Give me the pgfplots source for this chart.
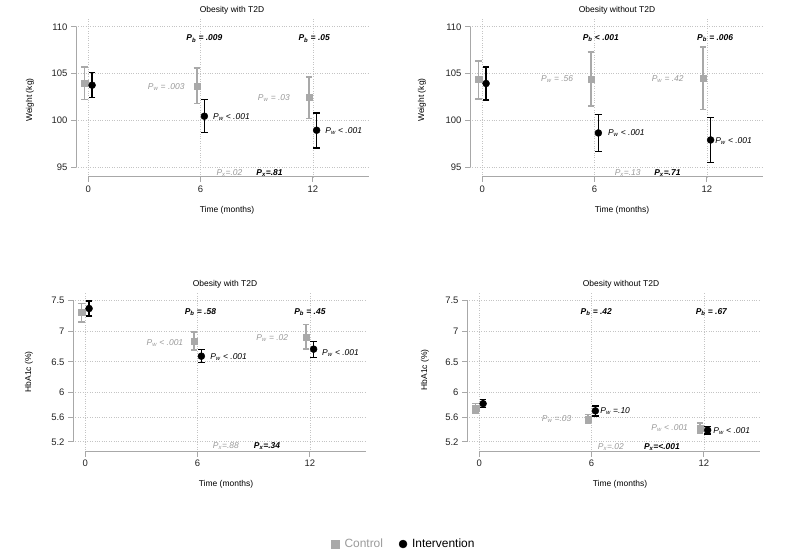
\documentclass[border=0pt]{standalone}
\usepackage{fontspec}
\setmainfont{Liberation Sans}
\usepackage{pgfplots}
\pgfplotsset{compat=1.18}
\definecolor{axgray}{HTML}{A8A8A8}
\definecolor{gridgray}{HTML}{C4C4C4}
\definecolor{ctrl}{HTML}{A9A9A9}
\definecolor{ctrltext}{HTML}{9A9A9A}
\definecolor{txt}{HTML}{222222}
\newcommand{\fs}{\fontsize{8.5}{10}\selectfont}
\newcommand{\Pb}[1]{{\bfseries\itshape P\textsubscript{b} #1}}
\newcommand{\Pw}[1]{{\itshape P\textsubscript{w} #1}}
\newcommand{\Px}[1]{{\itshape P\textsubscript{x}#1}}
\newcommand{\Pxb}[1]{{\bfseries\itshape P\textsubscript{x}#1}}
\pgfplotsset{
  panel/.style={
    scale only axis, width=293bp,
    xmin=-0.66, xmax=15, xtick={0,6,12},
    axis lines*=left, axis line style={draw=none},
    tick align=outside, major tick length=5bp,
    major tick style={axgray, line width=0.9bp},
    grid=major, major grid style={dotted, gridgray, line width=0.7bp},
    clip=false,
    /pgf/number format/assume math mode=true,
    ticklabel style={font=\fontsize{9.5}{11}\selectfont, text=txt},
  },
  ctrlplot/.style={only marks, mark=square*, mark size=3.1bp, color=ctrl,
    mark options={draw=ctrl, fill=ctrl},
    error bars/.cd, y dir=both, y explicit,
    error bar style={line width=1.7bp, ctrl},
    error mark options={rotate=90, mark size=3.2bp, line width=1.5bp, ctrl}},
  intplot/.style={only marks, mark=*, mark size=3.5bp, color=black,
    mark options={draw=black, fill=black},
    error bars/.cd, y dir=both, y explicit,
    error bar style={line width=1.6bp, black},
    error mark options={rotate=90, mark size=3.2bp, line width=1.5bp, black}},
}
\begin{document}
\begin{tikzpicture}
\useasboundingbox (0,0) rectangle (800bp,553bp);
% ---------- Top left ----------
\begin{axis}[panel, at={(76bp,376bp)}, anchor=south west, height=159.6bp,
  ymin=93.93, ymax=111, ytick={95,100,105,110}]
\addplot[ctrlplot] table[x=x,y=y,y error plus=ep,y error minus=em] {
x y ep em
-0.2 103.93 1.78 1.72
5.8 103.64 1.97 1.85
11.8 102.43 2.21 2.25
};
\addplot[intplot] table[x=x,y=y,y error plus=ep,y error minus=em] {
x y ep em
0.2 103.75 1.36 1.32
6.2 100.43 1.78 1.72
12.2 98.93 1.86 1.89
};
\draw[axgray, line width=1bp] (axis cs:-0.66,95) -- (axis cs:-0.66,110);
\draw[axgray, line width=1bp] (axis cs:0,93.93) -- (axis cs:15,93.93);
\node[inner sep=0, font=\fs] at (axis cs:6.2,108.75) {\Pb{= .009}};
\node[inner sep=0, font=\fs] at (axis cs:12.07,108.75) {\Pb{= .05}};
\node[inner sep=0, font=\fs, anchor=east, text=ctrltext] at (axis cs:5.15,103.5) {\Pw{= .003}};
\node[inner sep=0, font=\fs, anchor=west] at (axis cs:6.66,100.3) {\Pw{< .001}};
\node[inner sep=0, font=\fs, anchor=east, text=ctrltext] at (axis cs:10.78,102.4) {\Pw{= .03}};
\node[inner sep=0, font=\fs, anchor=west] at (axis cs:12.66,98.8) {\Pw{< .001}};
\node[inner sep=0, font=\fs, anchor=west, text=ctrltext] at (axis cs:6.84,94.35) {\Px{=.02}};
\node[inner sep=0, font=\fs, anchor=west] at (axis cs:8.97,94.35) {\Pxb{=.81}};
\end{axis}
% ---------- Top right ----------
\begin{axis}[panel, at={(470bp,376bp)}, anchor=south west, height=159.6bp,
  ymin=93.93, ymax=111, ytick={95,100,105,110}]
\addplot[ctrlplot] table[x=x,y=y,y error plus=ep,y error minus=em] {
x y ep em
-0.2 104.36 2.00 2.07
5.8 104.43 2.89 2.89
11.8 104.50 3.36 3.36
};
\addplot[intplot] table[x=x,y=y,y error plus=ep,y error minus=em] {
x y ep em
0.2 103.93 1.75 1.75
6.2 98.64 1.97 1.96
12.2 97.89 2.40 2.43
};
\draw[axgray, line width=1bp] (axis cs:-0.66,95) -- (axis cs:-0.66,110);
\draw[axgray, line width=1bp] (axis cs:0,93.93) -- (axis cs:15,93.93);
\node[inner sep=0, font=\fs] at (axis cs:6.33,108.8) {\Pb{< .001}};
\node[inner sep=0, font=\fs] at (axis cs:12.44,108.8) {\Pb{= .006}};
\node[inner sep=0, font=\fs, anchor=east, text=ctrltext] at (axis cs:4.86,104.36) {\Pw{= .56}};
\node[inner sep=0, font=\fs, anchor=west] at (axis cs:6.71,98.64) {\Pw{< .001}};
\node[inner sep=0, font=\fs, anchor=east, text=ctrltext] at (axis cs:10.77,104.43) {\Pw{= .42}};
\node[inner sep=0, font=\fs, anchor=west] at (axis cs:12.44,97.75) {\Pw{< .001}};
\node[inner sep=0, font=\fs, anchor=west, text=ctrltext] at (axis cs:7.07,94.35) {\Px{=.13}};
\node[inner sep=0, font=\fs, anchor=west] at (axis cs:9.18,94.35) {\Pxb{=.71}};
\end{axis}
% ---------- Bottom left ----------
\begin{axis}[panel, at={(73bp,101.3bp)}, anchor=south west, height=158.9bp,
  ymin=5.04, ymax=7.62, ytick={5.2,5.6,6,6.5,7,7.5}]
\addplot[ctrlplot] table[x=x,y=y,y error plus=ep,y error minus=em] {
x y ep em
-0.2 7.300 0.146 0.152
5.8 6.834 0.152 0.140
11.8 6.905 0.200 0.200
};
\addplot[intplot] table[x=x,y=y,y error plus=ep,y error minus=em] {
x y ep em
0.2 7.365 0.119 0.119
6.2 6.591 0.109 0.103
12.2 6.705 0.124 0.136
};
\draw[axgray, line width=1bp] (axis cs:-0.66,5.2) -- (axis cs:-0.66,7.5);
\draw[axgray, line width=1bp] (axis cs:0,5.04) -- (axis cs:15,5.04);
\node[inner sep=0, font=\fs] at (axis cs:6.15,7.31) {\Pb{= .58}};
\node[inner sep=0, font=\fs] at (axis cs:12.0,7.31) {\Pb{= .45}};
\node[inner sep=0, font=\fs, anchor=east, text=ctrltext] at (axis cs:5.24,6.81) {\Pw{< .001}};
\node[inner sep=0, font=\fs, anchor=west] at (axis cs:6.67,6.57) {\Pw{< .001}};
\node[inner sep=0, font=\fs, anchor=east, text=ctrltext] at (axis cs:10.85,6.89) {\Pw{= .02}};
\node[inner sep=0, font=\fs, anchor=west] at (axis cs:12.65,6.645) {\Pw{< .001}};
\node[inner sep=0, font=\fs, anchor=west, text=ctrltext] at (axis cs:6.81,5.13) {\Px{=.88}};
\node[inner sep=0, font=\fs, anchor=west] at (axis cs:9.0,5.13) {\Pxb{=.34}};
\end{axis}
% ---------- Bottom right ----------
\begin{axis}[panel, at={(467bp,101.3bp)}, anchor=south west, height=158.9bp,
  ymin=5.04, ymax=7.62, ytick={5.2,5.6,6,6.5,7,7.5},
  legend columns=2,
  legend style={at={(-0.215,-0.581)}, anchor=center, draw=none, fill=none,
    font=\fontsize{12}{14}\selectfont,
    /tikz/every odd column/.append style={column sep=3bp},
    /tikz/every even column/.append style={column sep=14bp}},
  legend image post style={mark size=4bp},
  legend cell align=left]
\addplot[ctrlplot] table[x=x,y=y,y error plus=ep,y error minus=em] {
x y ep em
-0.2 5.740 0.080 0.070
5.8 5.568 0.076 0.070
11.8 5.422 0.087 0.081
};
\addlegendentry{\textcolor{ctrltext}{Control}}
\addplot[intplot] table[x=x,y=y,y error plus=ep,y error minus=em] {
x y ep em
0.2 5.820 0.067 0.062
6.2 5.703 0.077 0.081
12.2 5.390 0.060 0.065
};
\addlegendentry{Intervention}
\draw[axgray, line width=1bp] (axis cs:-0.66,5.2) -- (axis cs:-0.66,7.5);
\draw[axgray, line width=1bp] (axis cs:0,5.04) -- (axis cs:15,5.04);
\node[inner sep=0, font=\fs] at (axis cs:6.25,7.31) {\Pb{= .42}};
\node[inner sep=0, font=\fs] at (axis cs:12.4,7.31) {\Pb{= .67}};
\node[inner sep=0, font=\fs, anchor=east, text=ctrltext] at (axis cs:4.93,5.57) {\Pw{=.03}};
\node[inner sep=0, font=\fs, anchor=west] at (axis cs:6.46,5.70) {\Pw{=.10}};
\node[inner sep=0, font=\fs, anchor=east, text=ctrltext] at (axis cs:11.16,5.42) {\Pw{< .001}};
\node[inner sep=0, font=\fs, anchor=west] at (axis cs:12.5,5.37) {\Pw{< .001}};
\node[inner sep=0, font=\fs, anchor=west, text=ctrltext] at (axis cs:6.33,5.12) {\Px{=.02}};
\node[inner sep=0, font=\fs, anchor=west] at (axis cs:8.79,5.12) {\Pxb{=<.001}};
\end{axis}
% ---------- titles and labels ----------
\node[font=\fs] at (232bp,543bp) {Obesity with T2D};
\node[font=\fs] at (617bp,543bp) {Obesity without T2D};
\node[font=\fs] at (225bp,269bp) {Obesity with T2D};
\node[font=\fs] at (621bp,269bp) {Obesity without T2D};
\node[font=\fs] at (227bp,342.3bp) {Time (months)};
\node[font=\fs] at (622bp,342.3bp) {Time (months)};
\node[font=\fs] at (226bp,68.7bp) {Time (months)};
\node[font=\fs] at (620bp,68.7bp) {Time (months)};
\node[font=\fs, rotate=90] at (30bp,453bp) {Weight (kg)};
\node[font=\fs, rotate=90] at (422bp,453bp) {Weight (kg)};
\node[font=\fs, rotate=90] at (29bp,181bp) {HbA1c (\%)};
\node[font=\fs, rotate=90] at (425bp,183bp) {HbA1c (\%)};
\end{tikzpicture}
\end{document}
